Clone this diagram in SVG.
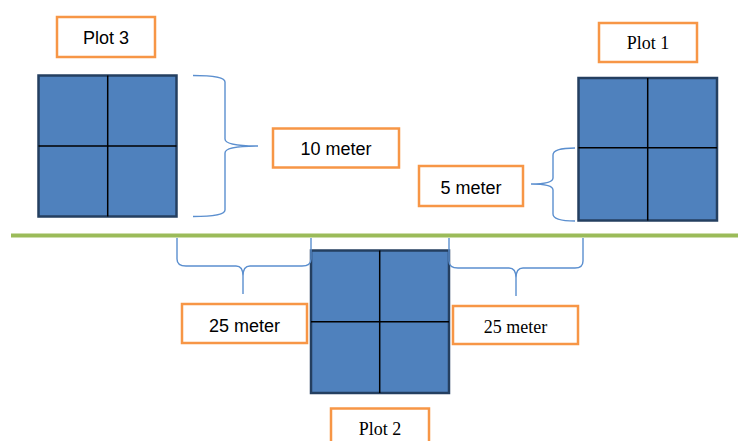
<svg xmlns="http://www.w3.org/2000/svg" width="738" height="441" viewBox="0 0 738 441">
  <style>
    .label { fill: #ffffff; stroke: #F79646; stroke-width: 2.5; }
    .plot { fill: #4F81BD; stroke: #243F60; stroke-width: 2.5; }
    .grid { stroke: #000000; stroke-width: 1.5; fill: none; }
    .brace { fill: none; stroke: #5B8FCF; stroke-width: 1.4; }
    .sans { font-family: "Liberation Sans", Arial, sans-serif; font-size: 18px; fill: #000000; text-anchor: middle; }
    .serif { font-family: "Liberation Serif", "Times New Roman", serif; font-size: 18px; fill: #000000; text-anchor: middle; }
  </style>

  <!-- ground line -->
  <line x1="11" y1="235.5" x2="738" y2="235.5" stroke="#9BBB59" stroke-width="4"/>

  <!-- Plot 3 -->
  <g id="plot3">
    <rect class="label" x="57" y="17" width="98" height="40"/>
    <text class="sans" x="106" y="44">Plot 3</text>
    <rect class="plot" x="38.5" y="75.5" width="138" height="141"/>
    <line class="grid" x1="107.7" y1="75.5" x2="107.7" y2="216.5"/>
    <line class="grid" x1="38.5" y1="146" x2="176.5" y2="146"/>
  </g>

  <!-- Plot 1 -->
  <g id="plot1">
    <rect class="label" x="599" y="23" width="98" height="39"/>
    <text class="serif" x="648" y="49">Plot 1</text>
    <rect class="plot" x="578.5" y="78" width="138.5" height="142.5"/>
    <line class="grid" x1="647.7" y1="78" x2="647.7" y2="220.5"/>
    <line class="grid" x1="578.5" y1="147.7" x2="717" y2="147.7"/>
  </g>

  <!-- Plot 2 -->
  <g id="plot2">
    <rect class="label" x="331" y="408.5" width="98" height="40"/>
    <text class="serif" x="380" y="435">Plot 2</text>
    <rect class="plot" x="311" y="250.5" width="138" height="142.5"/>
    <line class="grid" x1="379.7" y1="250.5" x2="379.7" y2="393"/>
    <line class="grid" x1="311" y1="321.7" x2="449" y2="321.7"/>
  </g>

  <!-- distance labels -->
  <g id="label-10m">
    <rect class="label" x="273" y="128.5" width="126" height="39"/>
    <text class="sans" x="336" y="155">10 meter</text>
  </g>
  <g id="label-5m">
    <rect class="label" x="419" y="166" width="104" height="40"/>
    <text class="sans" x="471" y="193.5">5 meter</text>
  </g>
  <g id="label-25m-left">
    <rect class="label" x="182" y="304" width="125" height="39"/>
    <text class="sans" x="244.5" y="331.5">25 meter</text>
  </g>
  <g id="label-25m-right">
    <rect class="label" x="453" y="306" width="125" height="38"/>
    <text class="serif" x="515.5" y="333">25 meter</text>
  </g>

  <!-- braces -->
  <g id="connectors">
    <path class="brace" d="M193,75.5 Q225,75.5 225,82 L225,139 Q225,146 258,146 Q225,146 225,153 L225,210 Q225,216.5 193,216.5"/>
    <path class="brace" d="M575,148 Q553,148 553,155 L553,178 Q553,184 531,184 Q553,184 553,190 L553,214 Q553,221 575,221"/>
    <path class="brace" d="M177,238 L177,259 Q177,266 186,266 L236,266 Q243,266 243,276 L243,294 M243,276 Q243,266 250,266 L302,266 Q311,266 311,259 L311,238"/>
    <path class="brace" d="M449,238 L449,261 Q449,268 458,268 L509,268 Q516,268 516,278 L516,296 M516,278 Q516,268 523,268 L575,268 Q583,268 583,261 L583,238"/>
  </g>
</svg>
